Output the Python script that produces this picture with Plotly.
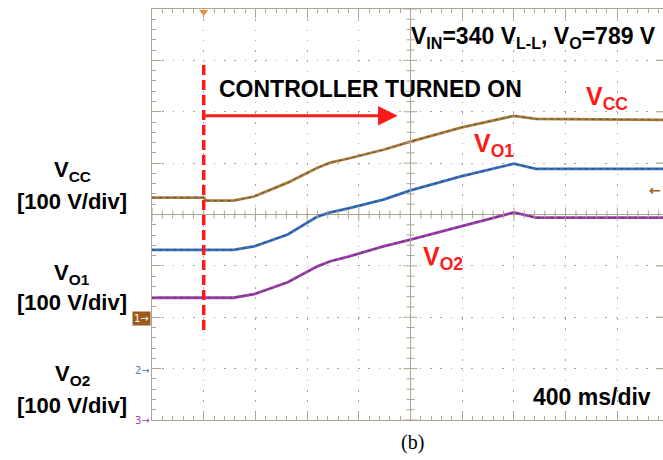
import plotly.graph_objects as go

# Start-up capture: 400 ms/div, 100 V/div on every channel, trigger = controller turn-on
t = [-0.40, 0.00, 0.02, 0.23, 0.39, 0.65, 0.88, 0.98, 1.12, 1.39, 1.60, 1.99, 2.40, 2.57, 3.60]
v_cc = [233, 233, 227, 227, 235, 262, 291, 301, 309, 326, 342, 369, 392, 386, 384]
v_o1 = [231, 231, 231, 231, 238, 261, 296, 304, 312, 329, 347, 374, 399, 389, 389]
v_o2 = [238, 238, 238, 238, 245, 268, 299, 309, 318, 338, 351, 377, 404, 394, 394]
t_on = 0.0

SEC_PER_DIV = 0.4
VOLTS_PER_DIV = 100
# ground marker of each channel, in screen divisions from centre
ground = {"cc": -2.0, "o1": -3.0, "o2": -4.0}

W, H = 663, 460
L, R, T, B = 152, 0, 9, 40
PW, PH = W - L - R, H - T - B
DIV_PX = 51.7
X0 = -0.4
X1 = X0 + PW / DIV_PX * SEC_PER_DIV
XC = X0 + 5 * SEC_PER_DIV          # centre graticule line

AX = "#aca591"
GRID = "#a4a4a4"
RED = "#ff1a1a"
FONT = "Liberation Sans, Arial, sans-serif"
MARK_FONT = "DejaVu Sans, sans-serif"


def to_div(values, key):
    return [v / VOLTS_PER_DIV + ground[key] for v in values]


def px(x):
    return (x - L) / PW


def py(y):
    return (H - B - y) / PH


fig = go.Figure()

traces = [
    ("cc", v_cc, "#a57d40", "#6e4f22"),
    ("o1", v_o1, "#3c70b5", "#1f4a86"),
    ("o2", v_o2, "#9a40a8", "#682a74"),
]
for key, vals, col, dark in traces:
    y = to_div(vals, key)
    fig.add_trace(go.Scatter(x=t, y=y, mode="lines",
                             line=dict(color=col, width=2.8),
                             hoverinfo="skip", showlegend=False))
    fig.add_trace(go.Scatter(x=t, y=y, mode="lines",
                             line=dict(color=dark, width=1, dash="3px,4px"),
                             hoverinfo="skip", showlegend=False))

# trigger position marker on the top edge
fig.add_trace(go.Scatter(x=[t_on], y=[3.94], mode="markers",
                         marker=dict(symbol="triangle-down", size=8, color="#f28a24"),
                         cliponaxis=False, hoverinfo="skip", showlegend=False))

shapes = []
# centre cross of the graticule
shapes.append(dict(type="line", xref="x", yref="paper", x0=XC, x1=XC, y0=0, y1=1,
                   line=dict(color=AX, width=1)))
for k in range(0, 51):
    xk = X0 + k * SEC_PER_DIV / 5
    h = 7 if k % 5 == 0 else 4
    shapes.append(dict(type="line", xref="x", yref="y", ysizemode="pixel", yanchor=0,
                       x0=xk, x1=xk, y0=-h, y1=h, line=dict(color=AX, width=1)))
for k in range(-20, 21):
    yk = k * 0.2
    h = 7 if k % 5 == 0 else 4
    shapes.append(dict(type="line", xref="x", yref="y", xsizemode="pixel", xanchor=XC,
                       x0=-h, x1=h, y0=yk, y1=yk, line=dict(color=AX, width=1)))
# right-edge major marks
for k in range(-3, 4):
    shapes.append(dict(type="line", xref="paper", yref="y", x0=px(656), x1=1,
                       y0=k, y1=k, line=dict(color=AX, width=1.2)))
# controller turn-on instant
shapes.append(dict(type="line", xref="x", yref="y", x0=t_on, x1=t_on, y0=-2.25, y1=2.99,
                   line=dict(color=RED, width=3.5, dash="10px,5px")))

ann = []
# turn-on arrow
ann.append(dict(x=1.50, y=1.92, ax=t_on, ay=1.92, xref="x", yref="y", axref="x", ayref="y",
                text="", showarrow=True, arrowhead=2, arrowsize=1.3, arrowwidth=3,
                arrowcolor=RED, standoff=0))
ann.append(dict(x=px(217), y=py(89), xref="paper", yref="paper", xanchor="left", yanchor="middle",
                text="<b>CONTROLLER TURNED ON</b>", showarrow=False,
                font=dict(family=FONT, size=23, color="black")))
ann.append(dict(x=px(409), y=py(37), xref="paper", yref="paper", xanchor="left", yanchor="middle",
                text="<b>V<sub>IN</sub>=340 V<sub>L-L</sub>, V<sub>O</sub>=789 V</b>", showarrow=False,
                font=dict(family=FONT, size=23, color="black")))
# red trace labels
for txt, x, y in [("V<sub>CC</sub>", 584, 98), ("V<sub>O1</sub>", 472, 145), ("V<sub>O2</sub>", 421, 258)]:
    ann.append(dict(x=px(x), y=py(y), xref="paper", yref="paper", xanchor="left", yanchor="middle",
                    text="<b>" + txt + "</b>", showarrow=False,
                    font=dict(family=FONT, size=25, color=RED)))
# channel captions on the left
for txt, yv, yb in [("V<sub>CC</sub>", 171, 201), ("V<sub>O1</sub>", 274, 302), ("V<sub>O2</sub>", 375, 405)]:
    ann.append(dict(x=px(72), y=py(yv), xref="paper", yref="paper", xanchor="center", yanchor="middle",
                    text="<b>" + txt + "</b>", showarrow=False,
                    font=dict(family=FONT, size=22, color="black")))
    ann.append(dict(x=px(72), y=py(yb), xref="paper", yref="paper", xanchor="center", yanchor="middle",
                    text="<b>[100 V/div]</b>", showarrow=False,
                    font=dict(family=FONT, size=22, color="black")))
ann.append(dict(x=px(653), y=py(397), xref="paper", yref="paper", xanchor="right", yanchor="middle",
                text="<b>400 ms/div</b>", showarrow=False,
                font=dict(family=FONT, size=23, color="black")))
ann.append(dict(x=px(412), y=py(442), xref="paper", yref="paper", xanchor="center", yanchor="middle",
                text="(b)", showarrow=False,
                font=dict(family="Liberation Serif, Times New Roman, serif", size=20, color="black")))
# channel ground markers
ann.append(dict(x=px(151), y=py(318.5), xref="paper", yref="paper", xanchor="right", yanchor="middle",
                text="1\u2192", showarrow=False, bgcolor="#9b5a1c", borderpad=1,
                font=dict(family=MARK_FONT, size=10, color="white")))
ann.append(dict(x=px(152), y=py(370), xref="paper", yref="paper", xanchor="right", yanchor="middle",
                text="2\u2192", showarrow=False, font=dict(family=MARK_FONT, size=10, color="#4b78b6")))
ann.append(dict(x=px(152), y=py(420), xref="paper", yref="paper", xanchor="right", yanchor="middle",
                text="3\u2192", showarrow=False, font=dict(family=MARK_FONT, size=10, color="#9a40a8")))
# trigger level marker
ann.append(dict(x=1, y=py(190), xref="paper", yref="paper", xanchor="right", yanchor="middle",
                text="<b>\u2190</b>", showarrow=False, font=dict(family=MARK_FONT, size=14, color="#9b5a1c")))

fig.update_layout(
    width=W, height=H,
    margin=dict(l=L, r=R, t=T, b=B, pad=0),
    paper_bgcolor="white", plot_bgcolor="white",
    shapes=shapes, annotations=ann,
    showlegend=False,
    xaxis=dict(range=[X0, X1], tick0=X0, dtick=SEC_PER_DIV, showticklabels=False,
               showgrid=True, gridcolor=GRID, gridwidth=1.3, griddash="1.5px,8.8px",
               zeroline=False, showline=True, linecolor=AX, linewidth=1.2, mirror="ticks",
               ticks="inside", ticklen=9, tickcolor=AX, tickwidth=1,
               minor=dict(ticks="inside", ticklen=4, dtick=SEC_PER_DIV / 5, tick0=X0,
                          tickcolor=AX, showgrid=False)),
    yaxis=dict(range=[-4, 4], tick0=0, dtick=1, showticklabels=False,
               showgrid=True, gridcolor=GRID, gridwidth=1.3, griddash="1.5px,8.8px",
               zeroline=True, zerolinecolor=AX, zerolinewidth=1,
               showline=True, linecolor=AX, linewidth=1.2,
               ticks="inside", ticklen=9, tickcolor=AX, tickwidth=1,
               minor=dict(ticks="inside", ticklen=4, dtick=0.2, tickcolor=AX, showgrid=False)),
)

fig.write_html("out.html")
